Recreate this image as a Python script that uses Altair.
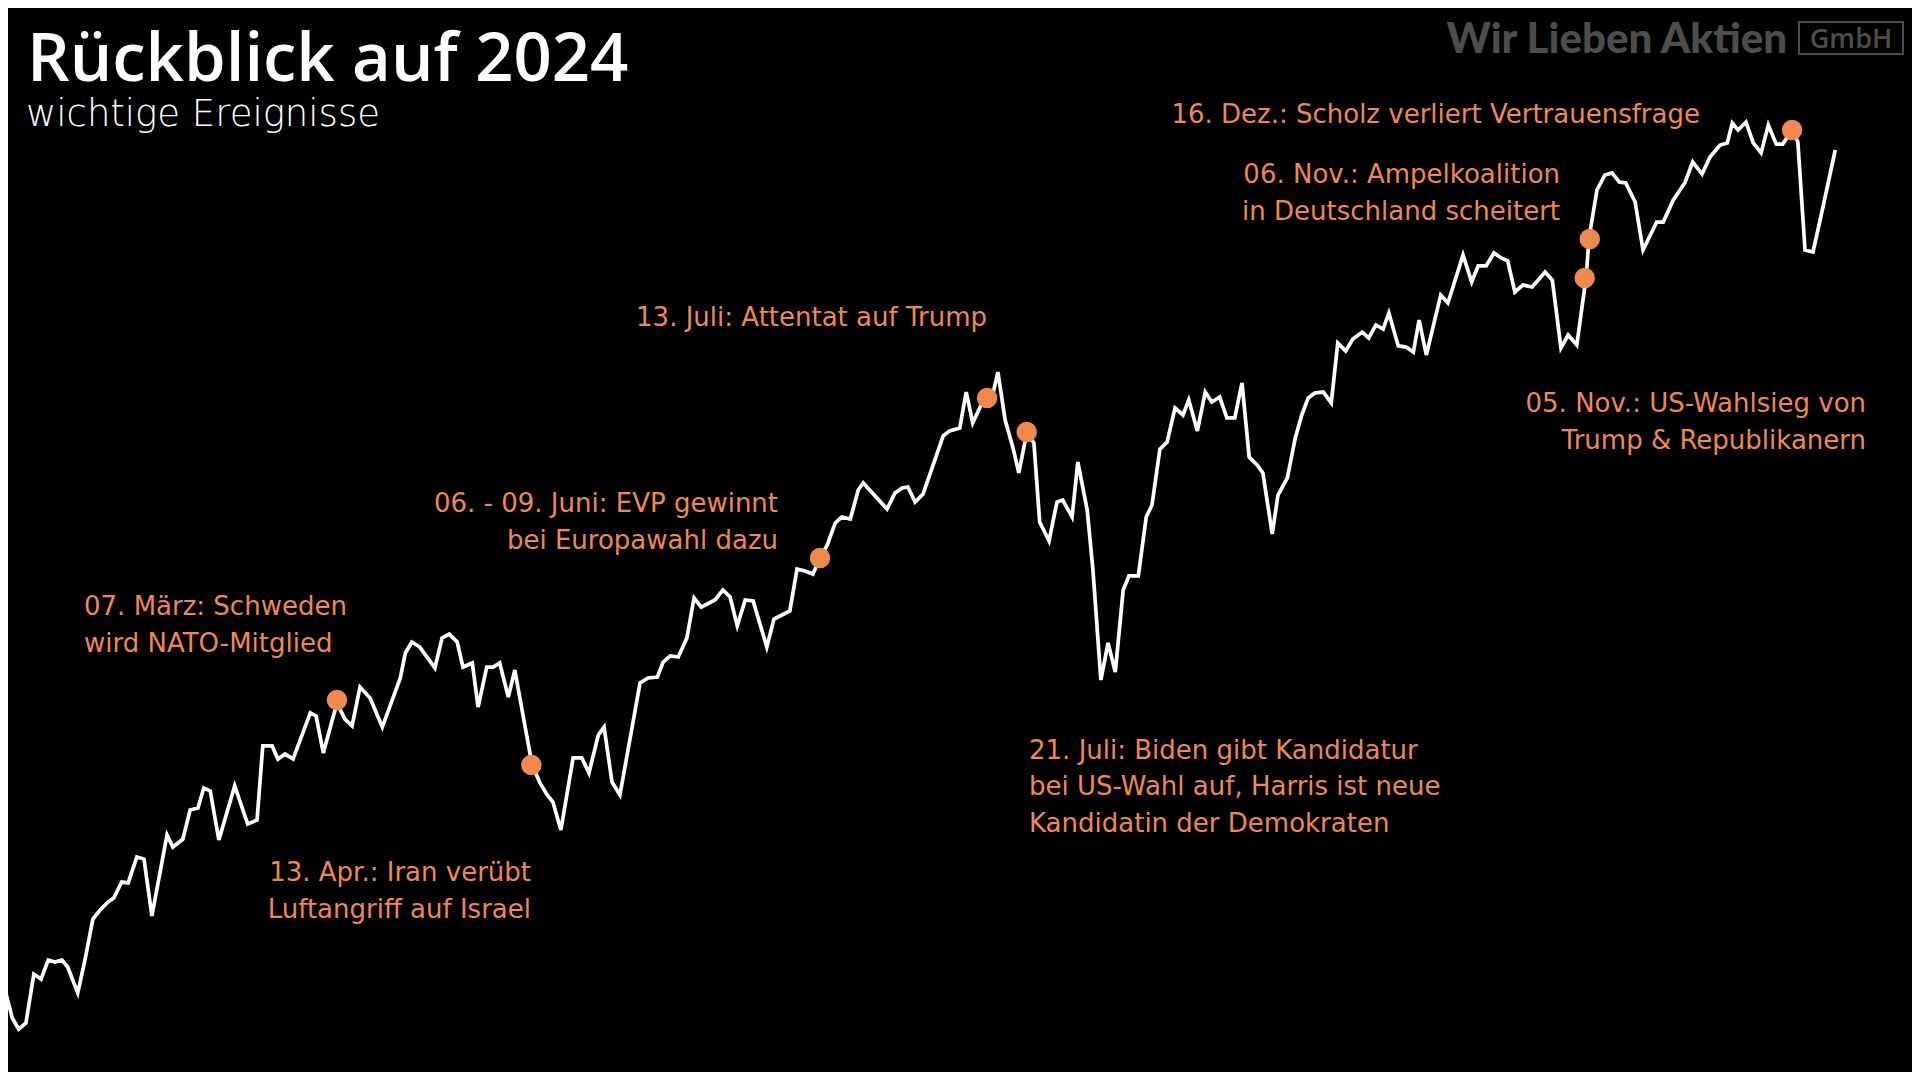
import altair as alt
import pandas as pd

# DAX-Verlauf 2024 (Handelstag-Index, Punkte)
handelstag = [0, 0.7, 1.7, 2.6, 3.6, 4.7, 5.7, 6.7, 7.6, 8.6, 9.4, 10.8, 11.8, 12.9, 13.9, 15.0, 15.8, 16.9, 17.8, 19.0,
              20.0, 21.1, 23.2, 24.0, 25.4, 26.4, 27.5, 28.3, 29.2, 30.4, 32.6, 34.4, 35.7, 36.5, 37.8, 38.6, 39.6, 40.7, 43.1, 43.9,
              44.9, 46.8, 47.9, 48.9, 50.0, 51.4, 53.1, 55.6,
              56.3, 57.2, 58.3, 60.4, 61.4, 62.4, 63.5, 64.3, 65.6, 66.4, 67.6, 68.5, 69.4, 70.6, 71.5, 73.9, 75.0, 76.0, 76.8, 77.9,
              79.6, 80.8, 81.8, 83.1, 83.9, 85.0, 86.1, 88.9, 90.0, 91.3, 92.1, 93.1, 94.2, 95.4, 96.4, 97.4, 99.3, 100.4, 101.4, 102.4,
              103.5, 104.6, 106.5, 107.5, 109.7, 110.7,
              111.8, 112.9, 113.9, 114.9, 116.0, 116.9, 118.1, 119.2, 119.9, 123.2, 124.3, 125.3, 126.1, 127.1, 128.2, 131.0, 131.9,
              133.3, 134.2, 135.1, 136.4, 137.8, 138.6, 139.6, 140.7, 141.5, 142.6, 143.6, 144.4, 145.7, 146.8, 147.6, 148.9, 149.7,
              151.0, 151.8, 152.9, 153.9, 154.9, 156.0, 156.8, 158.1, 159.2, 160.0, 161.1, 162.1, 163.2, 164.3, 165.1, 166.3,
              167.4, 168.3, 169.4, 170.4, 171.5, 172.5, 173.5, 174.6, 175.4, 176.7, 177.5, 178.8, 179.9, 180.8, 181.7, 182.6, 183.8,
              184.9, 185.8, 186.9, 187.9, 189.2, 190.1, 191.1, 192.1, 192.9, 194.2, 195.3, 196.3, 197.1, 198.1, 200.1, 201.1, 203.2,
              204.4, 205.3, 206.4, 207.5, 208.5, 209.4, 210.4, 211.5, 212.8, 214.6, 215.6, 216.8, 217.8, 219.0, 220.3, 220.7,
              221.8, 222.9, 223.9, 224.9, 225.8, 227.1, 228.2, 230.1, 231.0, 232.4, 234.0, 235.1, 236.4, 237.5, 238.9, 239.9, 240.6,
              241.4, 242.5, 243.5, 244.6, 245.6, 246.7, 247.6, 248.9, 249.7, 250.7, 251.8, 252.8, 254.9]

punkte = [16710, 16644, 16521, 16472, 16499, 16714, 16692, 16776, 16767, 16776, 16745, 16631, 16776, 16956, 16996, 17031, 17049,
          17119, 17115, 17229, 17220, 16970, 17326, 17273, 17308, 17436, 17445, 17533, 17520, 17304, 17542, 17374, 17392, 17718,
          17718, 17660, 17682, 17660, 17863, 17850, 17687, 17907, 17836, 17806, 17977, 17929, 17801, 18017,
          18127, 18175, 18153, 18061, 18193, 18210, 18175, 18065, 18083, 17889, 18065, 18065, 18083, 17933, 18052, 17634, 17555,
          17502, 17471, 17348, 17665, 17665, 17599, 17766, 17801, 17559, 17502, 17995, 18017, 18021, 18087, 18114, 18109, 18193,
          18369, 18329, 18360, 18404, 18373, 18246, 18360, 18356, 18153, 18276, 18312, 18496,
          18488, 18474, 18545, 18602, 18699, 18725, 18716, 18844, 18875, 18760, 18831, 18853, 18857, 18791, 18826, 19082, 19104,
          19117, 19275, 19139, 19227, 19253, 19363, 19152, 19029, 18919, 19095, 19051, 18703, 18620, 18791, 18800, 18725, 18967,
          18756, 18492, 18008, 18171, 18043, 18404, 18466, 18466, 18725, 18778, 19024, 19055, 19205, 19174, 19240, 19104,
          19275, 19231, 19253, 19161, 19161, 19315, 18989, 18954, 18919, 18650, 18822, 18897, 19073, 19174, 19249, 19271, 19275,
          19227, 19491, 19456, 19508, 19539, 19513, 19570, 19552, 19623, 19478, 19473, 19451, 19592, 19438, 19702, 19667, 19878,
          19759, 19830, 19830, 19887, 19865, 19852, 19715, 19746, 19737, 19803, 19768, 19469, 19526, 19482, 19781, 19953,
          20164, 20230, 20239, 20199, 20195, 20111, 19900, 20023, 20023, 20120, 20195, 20287, 20234, 20309, 20362, 20371, 20459,
          20428, 20463, 20371, 20327, 20450, 20366, 20366, 20428, 20375, 19900, 19891, 20032, 20340]

# Ereignisse (Markierungen auf der Linie)
ereignis_tag = [46.8, 73.8, 113.9, 137.1, 142.6, 220.1, 220.8, 248.9]
ereignis_punkte = [17920, 17634, 18545, 19249, 19099, 19777, 19948, 20428]

# Beschriftungen: Text, Anker (Handelstag, Punkte), Ausrichtung
label_text = ["07. März: Schweden", "wird NATO-Mitglied",
              "13. Apr.: Iran verübt", "Luftangriff auf Israel",
              "06. - 09. Juni: EVP gewinnt", "bei Europawahl dazu",
              "13. Juli: Attentat auf Trump",
              "21. Juli: Biden gibt Kandidatur", "bei US-Wahl auf, Harris ist neue", "Kandidatin der Demokraten",
              "16. Dez.: Scholz verliert Vertrauensfrage",
              "06. Nov.: Ampelkoalition", "in Deutschland scheitert",
              "05. Nov.: US-Wahlsieg von", "Trump & Republikanern"]
label_tag = [11.67, 11.67, 73.75, 73.75, 108.06, 108.06, 137.08, 142.92, 142.92, 142.92, 236.11, 216.67, 216.67, 259.17, 259.17]
label_punkte = [18329, 18166, 17159, 16996, 18782, 18620, 19601, 17696, 17537, 17374, 20494, 20230, 20067, 19222, 19060]
label_align = ["left", "left", "right", "right", "right", "right", "right", "left", "left", "left",
               "right", "right", "right", "right", "right"]

ORANGE = "#EF8A4E"
LABEL_FONT = "DejaVu Sans"

line_df = pd.DataFrame({"tag": handelstag, "punkte": punkte})
ev_df = pd.DataFrame({"tag": ereignis_tag, "punkte": ereignis_punkte})
lab_df = pd.DataFrame({"tag": label_tag, "punkte": label_punkte, "text": label_text, "align": label_align})

xs = alt.Scale(domain=[1.111, 265.556], nice=False, zero=False)
ys = alt.Scale(domain=[16283.2, 20964.8], nice=False, zero=False)
X = alt.X("tag:Q", scale=xs, axis=None)
Y = alt.Y("punkte:Q", scale=ys, axis=None)

line = alt.Chart(line_df).mark_line(color="white", strokeWidth=3.7, strokeJoin="miter").encode(x=X, y=Y)
dots = alt.Chart(ev_df).mark_point(filled=True, color=ORANGE, size=420, opacity=1).encode(x=X, y=Y)

lab_left = alt.Chart(lab_df).transform_filter(alt.datum.align == "left").mark_text(
    align="left", baseline="middle", font=LABEL_FONT, fontSize=26, color=ORANGE
).encode(x=X, y=Y, text="text:N")
lab_right = alt.Chart(lab_df).transform_filter(alt.datum.align == "right").mark_text(
    align="right", baseline="middle", font=LABEL_FONT, fontSize=26, color=ORANGE
).encode(x=X, y=Y, text="text:N")

one = pd.DataFrame({"a": [0]})
title = alt.Chart(one).mark_text(
    text="Rückblick auf 2024", align="left", baseline="alphabetic",
    font="Open Sans", fontSize=67, fontWeight=600, color="white"
).encode(x=alt.value(19), y=alt.value(72.5))
subtitle = alt.Chart(one).mark_text(
    text="wichtige Ereignisse", align="left", baseline="alphabetic",
    font="DejaVu Sans", fontSize=37, fontWeight=200, color="white"
).encode(x=alt.value(18), y=alt.value(118))

logo = alt.Chart(one).mark_text(
    text="Wir Lieben Aktien", align="right", baseline="alphabetic",
    font="Lato", fontSize=42, fontWeight=900, color="#4d4d4d"
).encode(x=alt.value(1779), y=alt.value(45))
logo_box = alt.Chart(one).mark_rect(
    fill=None, stroke="#4d4d4d", strokeWidth=2
).encode(x=alt.value(1791), x2=alt.value(1895), y=alt.value(14), y2=alt.value(46))
logo_gmbh = alt.Chart(one).mark_text(
    text="GmbH", align="center", baseline="alphabetic",
    font="Open Sans", fontSize=27, fontWeight=600, color="#4d4d4d"
).encode(x=alt.value(1843), y=alt.value(40))

chart = alt.layer(
    line, dots, lab_left, lab_right, title, subtitle, logo, logo_box, logo_gmbh
).properties(
    width=1904, height=1064,
    autosize=alt.AutoSizeParams(type="none"),
    padding=0,
    background="black",
).configure_view(stroke=None)

chart.save("out.html", embed_options={"renderer": "svg", "actions": False})
